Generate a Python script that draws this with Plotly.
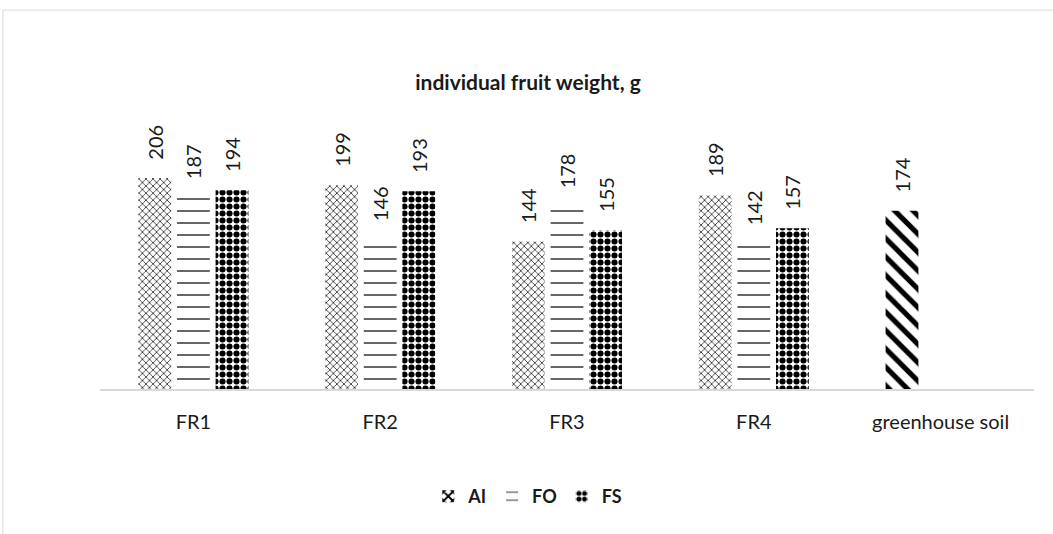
import plotly.graph_objects as go

categorias = ["FR1", "FR2", "FR3", "FR4", "greenhouse soil"]
valores_ai = [206, 199, 144, 189, 174]
valores_fo = [187, 146, 178, 142, None]
valores_fs = [194, 193, 155, 157, None]

_FONTE = "Lato, 'Open Sans', sans-serif"
_COR_TEXTO = "#1a1a1a"
_COR_BORDA = "#d9d9d9"


def _rotulos(valores):
    return ["\u00a0\u00a0\u00a0" + str(v) if v is not None else "" for v in valores]


def _padrao(shape, size, solidity):
    return {
        "shape": shape,
        "size": size,
        "solidity": solidity,
        "fgcolor": "black",
        "fgopacity": 1,
        "bgcolor": "white",
        "fillmode": "overlay",
    }


fig = go.Figure()

# AI: o ponto "greenhouse soil" tem preenchimento próprio (listras diagonais)
fig.add_trace(
    go.Bar(
        name="AI",
        x=categorias,
        y=valores_ai,
        text=_rotulos(valores_ai),
        marker={
            "color": "white",
            "line": {"width": 0},
            "pattern": _padrao(
                ["x", "x", "x", "x", "\\"],
                [5, 5, 5, 5, 13],
                [0.25, 0.25, 0.25, 0.25, 0.4],
            ),
        },
    )
)
fig.add_trace(
    go.Bar(
        name="FO",
        x=categorias,
        y=valores_fo,
        text=_rotulos(valores_fo),
        marker={
            "color": "white",
            "line": {"width": 0},
            "pattern": _padrao("-", 12, 0.1),
        },
    )
)
fig.add_trace(
    go.Bar(
        name="FS",
        x=categorias,
        y=valores_fs,
        text=_rotulos(valores_fs),
        marker={
            "color": "white",
            "line": {"width": 0},
            "pattern": _padrao(".", 7, 0.6),
        },
    )
)

fig.update_traces(
    textposition="outside",
    textangle=-90,
    constraintext="none",
    cliponaxis=False,
    textfont={"family": _FONTE, "size": 20, "color": _COR_TEXTO},
    hoverinfo="skip",
)

# moldura da área do gráfico (cortada na imagem original)
fig.add_shape(
    type="rect",
    xref="paper",
    yref="paper",
    x0=-0.104,
    x1=1.2,
    y0=-1.0,
    y1=1.48,
    line={"color": _COR_BORDA, "width": 1},
    fillcolor="rgba(0,0,0,0)",
    layer="below",
)

fig.update_layout(
    width=1053,
    height=534,
    margin={"l": 100, "r": 19, "t": 133, "b": 145},
    paper_bgcolor="white",
    plot_bgcolor="white",
    barmode="group",
    bargap=0.38,
    bargroupgap=0.15,
    font={"family": _FONTE, "color": _COR_TEXTO},
    title={
        "text": "<b>individual fruit weight, g</b>",
        "x": 528 / 1053,
        "xanchor": "center",
        "xref": "container",
        "y": 1 - 83 / 534,
        "yanchor": "middle",
        "yref": "container",
        "font": {"family": _FONTE, "size": 21, "color": _COR_TEXTO},
    },
    xaxis={
        "showline": True,
        "linecolor": _COR_BORDA,
        "linewidth": 2,
        "ticks": "",
        "showgrid": False,
        "tickfont": {"family": _FONTE, "size": 20, "color": _COR_TEXTO},
        "ticklabelstandoff": 14,
    },
    yaxis={
        "range": [0, 250],
        "visible": False,
        "showgrid": False,
        "zeroline": False,
    },
    legend={
        "orientation": "h",
        "x": 0.458,
        "xanchor": "center",
        "y": -0.42,
        "yanchor": "middle",
        "font": {"family": _FONTE, "size": 18, "color": _COR_TEXTO, "weight": "bold"},
        "itemwidth": 30,
        "traceorder": "normal",
    },
    showlegend=True,
)

fig.write_html(
    "out.html",
    config={"displayModeBar": False},
    post_script="document.body.style.margin = '0';",
)
